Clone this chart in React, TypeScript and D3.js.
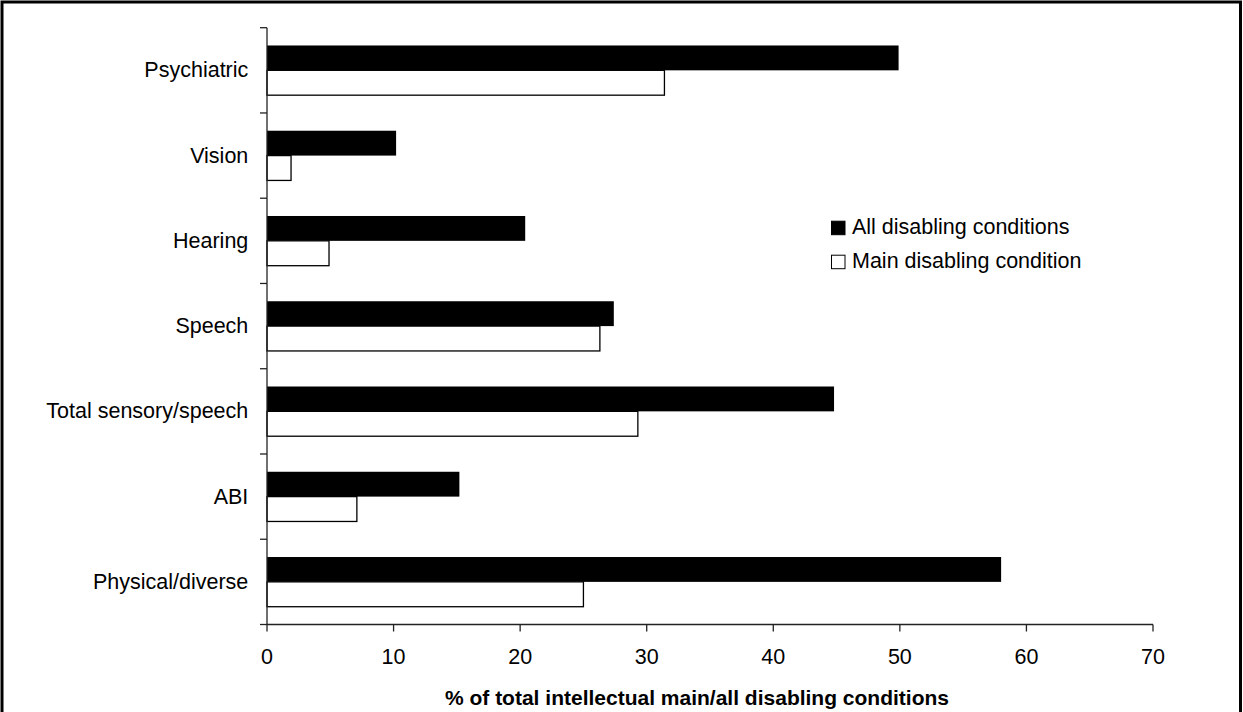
import React, { useEffect } from "react";
import * as d3 from "d3";

const categories = [
  "Psychiatric",
  "Vision",
  "Hearing",
  "Speech",
  "Total sensory/speech",
  "ABI",
  "Physical/diverse",
];
const allConditions = [49.9, 10.2, 20.4, 27.4, 44.8, 15.2, 58.0];
const mainCondition = [31.4, 1.9, 4.9, 26.3, 29.3, 7.1, 25.0];
const seriesNames = ["All disabling conditions", "Main disabling condition"];
const xTicks = [0, 10, 20, 30, 40, 50, 60, 70];
const xTitle = "% of total intellectual main/all disabling conditions";

const W = 1243;
const H = 712;
const FONT = "Arial, 'Liberation Sans', Helvetica, sans-serif";

export default function App() {
  useEffect(() => {
    document.body.style.margin = "0";
  }, []);

  const x0 = 267;
  const x1 = 1153;
  const yTop = 27.7;
  const yBot = 624.5;

  const x = d3.scaleLinear().domain([0, 70]).range([x0, x1]);
  const y = d3
    .scaleBand<string>()
    .domain(categories)
    .range([yTop, yBot])
    .paddingInner(0.417)
    .paddingOuter(0.2085);
  const sub = d3
    .scaleBand<string>()
    .domain(["all", "main"])
    .range([0, y.bandwidth()])
    .padding(0);

  const step = (yBot - yTop) / categories.length;
  const yTickPos = d3.range(categories.length + 1).map((i) => yTop + i * step);

  return (
    <svg width={W} height={H} style={{ display: "block" }} fontFamily={FONT}>
      <rect x={0} y={0} width={W} height={H} fill="#fff" />
      <rect
        x={2}
        y={2}
        width={1238.5}
        height={H + 20}
        fill="none"
        stroke="#000"
        strokeWidth={3}
      />
      {/* bars */}
      {categories.map((c, i) => (
        <g key={c}>
          <rect
            x={x(0)}
            y={(y(c) as number) + (sub("all") as number)}
            width={x(allConditions[i]) - x(0)}
            height={sub.bandwidth()}
            fill="#000"
          />
          <rect
            x={x(0)}
            y={(y(c) as number) + (sub("main") as number)}
            width={x(mainCondition[i]) - x(0)}
            height={sub.bandwidth()}
            fill="#fff"
            stroke="#000"
            strokeWidth={1.3}
          />
        </g>
      ))}
      {/* y axis */}
      <line x1={x0} x2={x0} y1={yTop} y2={yBot} stroke="#222" strokeWidth={1.3} />
      {yTickPos.map((t, i) => (
        <line key={i} x1={x0 - 7} x2={x0} y1={t} y2={t} stroke="#222" strokeWidth={1.3} />
      ))}
      {categories.map((c) => (
        <text
          key={c}
          x={248.3}
          y={(y(c) as number) + y.bandwidth() / 2}
          textAnchor="end"
          dominantBaseline="central"
          fontSize={21.5}
          fill="#000"
        >
          {c}
        </text>
      ))}
      {/* x axis */}
      <line x1={x0} x2={x1} y1={yBot} y2={yBot} stroke="#222" strokeWidth={1.3} />
      {xTicks.map((t) => (
        <g key={t}>
          <line x1={x(t)} x2={x(t)} y1={yBot} y2={yBot + 7} stroke="#222" strokeWidth={1.3} />
          <text
            x={x(t)}
            y={657}
            textAnchor="middle"
            dominantBaseline="central"
            fontSize={21.5}
            fill="#000"
          >
            {t}
          </text>
        </g>
      ))}
      <text
        x={697}
        y={697}
        textAnchor="middle"
        dominantBaseline="central"
        fontSize={21}
        fontWeight="bold"
        fill="#000"
      >
        {xTitle}
      </text>
      {/* legend */}
      {seriesNames.map((s, i) => (
        <g key={s} transform={`translate(831, ${220.7 + i * 34})`}>
          <rect
            x={0.5}
            y={0.5}
            width={13.5}
            height={13.5}
            fill={i === 0 ? "#000" : "#fff"}
            stroke="#000"
            strokeWidth={1}
          />
          <text x={21} y={6.5} dominantBaseline="central" fontSize={21.5} fill="#000">
            {s}
          </text>
        </g>
      ))}
    </svg>
  );
}
